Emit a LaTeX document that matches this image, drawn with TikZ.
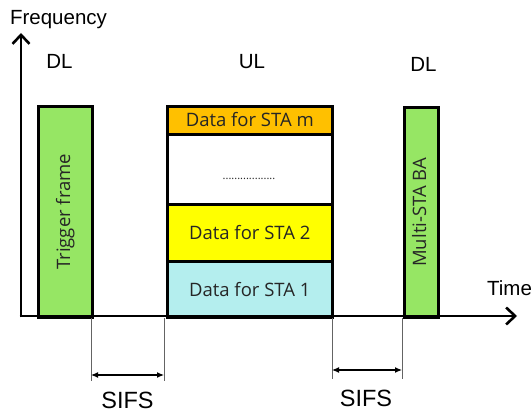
\documentclass[tikz,border=0pt]{standalone}
\usepackage{fontspec}
\setmainfont{Liberation Sans}
\newfontfamily\boxfont{Open Sans}
\usetikzlibrary{arrows.meta}
\definecolor{grn}{RGB}{150,230,100}
\definecolor{org}{RGB}{255,192,0}
\definecolor{ylw}{RGB}{255,255,0}
\definecolor{cyn}{RGB}{180,238,238}
\definecolor{guide}{RGB}{100,100,100}
\begin{document}
\begin{tikzpicture}[x=1pt,y=-1pt,
  frame/.style={draw=black,line width=2.6pt,rectangle,inner sep=0pt,anchor=north west},
  boxtext/.style={font=\boxfont\fontsize{18.5}{20}\selectfont,text=black!85,inner sep=0pt},
  lbl/.style={font=\fontsize{20.5}{22}\selectfont,anchor=base,inner sep=0pt},
  sifslbl/.style={font=\fontsize{23.5}{25}\selectfont,anchor=base,inner sep=0pt},
  axis/.style={line width=2.6pt,-{Straight Barb[length=9pt,width=17pt]}},
  guideline/.style={draw=guide,line width=1pt},
  dim/.style={line width=1.2pt,{Latex[length=7pt,width=6pt]}-{Latex[length=7pt,width=6pt]}}]
\useasboundingbox (0,0) rectangle (532,414);

% boxes
\node[frame,fill=grn,minimum width=54pt,minimum height=211pt] (trig) at (37,105) {};
\node[boxtext,rotate=90] (trigt) at (trig.center) {Trigger frame};

\node[frame,fill=cyn,minimum width=165pt,minimum height=56pt] (sta1) at (166,260) {};
\node[frame,fill=ylw,minimum width=165pt,minimum height=57pt] (sta2) at (166,203) {};
\node[frame,fill=white,minimum width=165pt,minimum height=70pt] (dots) at (166,133) {};
\node[frame,fill=org,minimum width=165pt,minimum height=28pt] (stam) at (166,105) {};
\node[boxtext] (sta1t) at (sta1.center) {Data for STA 1};
\node[boxtext] (sta2t) at (sta2.center) {Data for STA 2};
\node[boxtext] (stamt) at ([yshift=1pt]stam.center) {Data for STA m};
\node[boxtext,font=\boxfont\fontsize{11}{12}\selectfont,anchor=base] (dotst) at (249,179) {..................};

\node[frame,fill=grn,minimum width=34pt,minimum height=210pt] (ba) at (403,106) {};
\node[boxtext,rotate=90] (bat) at ([xshift=-2pt]ba.center) {Multi-STA BA};

% axes
\coordinate (o) at (21,316);
\coordinate (ytip) at (21,33);
\coordinate (xtip) at (517,316);
\coordinate (obot) at (21,317.3);
\coordinate (oleft) at (19.7,316);
\draw[axis] (obot) -- (ytip);
\draw[axis] (oleft) -- (xtip);

% labels
\node[lbl] (freq) at (58.5,25) {Frequency};
\node[lbl] (dl1) at (59.5,69) {DL};
\node[lbl] (ul) at (252,69) {UL};
\node[lbl] (dl2) at (423.5,72) {DL};
\node[lbl] (time) at (509.5,295) {Time};

% SIFS 1
\coordinate (a1) at (91,318);
\coordinate (a2) at (91,381);
\coordinate (b1) at (164,318);
\coordinate (b2) at (164,381);
\draw[guideline] (a1) -- (a2);
\draw[guideline] (b1) -- (b2);
\coordinate (a3) at (91,375);
\coordinate (b3) at (164,375);
\draw[dim] (a3) -- (b3);
\node[sifslbl] (sifs1) at (127.5,408) {SIFS};

% SIFS 2
\coordinate (c1) at (332,318);
\coordinate (c2) at (332,379);
\coordinate (d1) at (402,318);
\coordinate (d2) at (402,379);
\draw[guideline] (c1) -- (c2);
\draw[guideline] (d1) -- (d2);
\coordinate (c3) at (332,370);
\coordinate (d3) at (402,370);
\draw[dim] (c3) -- (d3);
\node[sifslbl] (sifs2) at (366,406) {SIFS};
\end{tikzpicture}
\end{document}
